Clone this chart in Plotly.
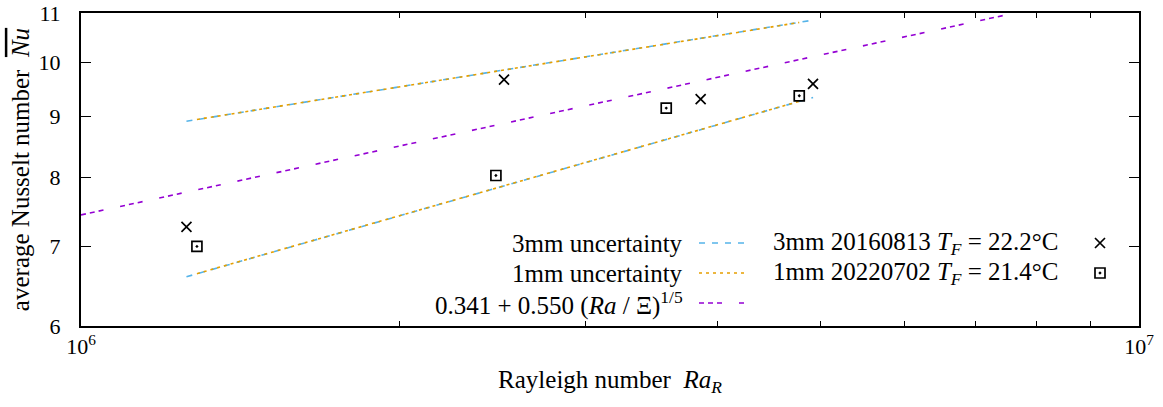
import plotly.graph_objects as go

# ---- data ----
ra_3mm = [1.258e6, 2.511e6, 3.852e6, 4.919e6]
nu_3mm = [7.27, 9.67, 9.31, 9.59]

ra_1mm = [1.287e6, 2.467e6, 3.574e6, 4.774e6]
nu_1mm = [7.00, 8.03, 9.15, 9.37]

unc3_ra = [1.258e6, 4.92e6]
unc3_hi = [8.92, 10.85]
unc3_lo = [6.60, 9.34]

unc1_ra = [1.287e6, 4.774e6]
unc1_hi = [8.95, 10.80]
unc1_lo = [6.64, 9.27]

fit_ra = [1e6, 2e6, 3e6, 4e6, 5e6, 6e6, 7e6, 8e6]
fit_nu = [7.44, 8.50, 9.19, 9.71, 10.14, 10.50, 10.82, 11.10]

x_tickvals = [1e6, 1e7]
x_ticktext = ["10<sup>6</sup>", "10<sup>7</sup>"]
x_minor = [2e6, 3e6, 4e6, 5e6, 6e6, 7e6, 8e6, 9e6]
y_tickvals = [6, 7, 8, 9, 10, 11]
y_ticktext = ["6", "7", "8", "9", "10", "11"]

legend_left = ["3mm uncertainty", "1mm uncertainty",
               "0.341 + 0.550 (<i>Ra</i> / Ξ)<sup>1/5</sup>"]
legend_right = ["3mm 20160813 <i>T</i><sub><i>F</i></sub> = 22.2°C",
                "1mm 20220702 <i>T</i><sub><i>F</i></sub> = 21.4°C"]

# ---- styles ----
CYAN = "#56B4E9"
ORANGE = "#E69F00"
PURPLE = "#9400D3"
FONT = "Liberation Serif"
FS = 25
FS_TICK = 22
DASH_CYAN = "6px,7px"
DASH_ORANGE = "3px,4px"
DASH_PURPLE = "5px,4px,5px,4px,5px,17px"

W, H = 1163, 407
L, R, T, B = 81, 1139, 13, 326   # plot area in page pixels

fig = go.Figure()

for ylist in (unc3_hi, unc3_lo):
    fig.add_trace(go.Scatter(x=unc3_ra, y=ylist, mode="lines",
                             line=dict(color=CYAN, width=1.6, dash=DASH_CYAN),
                             showlegend=False))
for ylist in (unc1_hi, unc1_lo):
    fig.add_trace(go.Scatter(x=unc1_ra, y=ylist, mode="lines",
                             line=dict(color=ORANGE, width=1.6, dash=DASH_ORANGE),
                             showlegend=False))
fig.add_trace(go.Scatter(x=fit_ra, y=fit_nu, mode="lines",
                         line=dict(color=PURPLE, width=1.6, dash=DASH_PURPLE),
                         showlegend=False))
fig.add_trace(go.Scatter(x=ra_3mm, y=nu_3mm, mode="markers",
                         marker=dict(symbol="x-thin", size=10, color="black",
                                     line=dict(color="black", width=1.7)),
                         showlegend=False))
fig.add_trace(go.Scatter(x=ra_1mm, y=nu_1mm, mode="markers",
                         marker=dict(symbol="square-open-dot", size=10, color="black",
                                     line=dict(color="black", width=1.7)),
                         showlegend=False))

# ---- gnuplot-style legend (text right-aligned, sample on the right) ----
def px(x):
    return (x - L) / (R - L)
def py(y):
    return (B - y) / (B - T)

rows = [243, 273, 303]
samples = [(CYAN, DASH_CYAN), (ORANGE, DASH_ORANGE), (PURPLE, DASH_PURPLE)]
for i, txt in enumerate(legend_left):
    fig.add_annotation(x=px(685), y=py(rows[i]), xref="paper", yref="paper",
                       text=txt, showarrow=False, xanchor="right", yanchor="middle",
                       font=dict(family=FONT, size=FS, color="black"))
    fig.add_shape(type="line", xref="paper", yref="paper",
                  x0=px(699), x1=px(748), y0=py(rows[i]), y1=py(rows[i]),
                  line=dict(color=samples[i][0], width=1.6, dash=samples[i][1]))
for i, txt in enumerate(legend_right):
    fig.add_annotation(x=px(1061), y=py(rows[i]), xref="paper", yref="paper",
                       text=txt, showarrow=False, xanchor="right", yanchor="middle",
                       font=dict(family=FONT, size=FS, color="black"))

fig.add_trace(go.Scatter(x=[px(1100)], y=[py(rows[0])], xaxis="x2", yaxis="y2",
                         mode="markers", showlegend=False, hoverinfo="skip",
                         marker=dict(symbol="x-thin", size=10, color="black",
                                     line=dict(color="black", width=1.7))))
fig.add_trace(go.Scatter(x=[px(1100)], y=[py(rows[1])], xaxis="x2", yaxis="y2",
                         mode="markers", showlegend=False, hoverinfo="skip",
                         marker=dict(symbol="square-open-dot", size=10, color="black",
                                     line=dict(color="black", width=1.7))))

axis_common = dict(showline=True, linecolor="black", linewidth=2, mirror="allticks",
                   ticks="inside", tickcolor="black", tickwidth=1,
                   showgrid=False, zeroline=False, automargin=False,
                   ticklabeloverflow="allow",
                   tickfont=dict(family=FONT, size=FS_TICK, color="black"))

fig.update_layout(
    width=W, height=H,
    margin=dict(l=L, r=W - R, t=T, b=H - B),
    plot_bgcolor="white", paper_bgcolor="white",
    showlegend=False,
    xaxis=dict(type="log", range=[6, 7.00001], tickmode="array",
               tickvals=x_tickvals, ticktext=x_ticktext, ticklen=10,
               minor=dict(tickmode="array", tickvals=x_minor, ticks="inside",
                          ticklen=5, tickcolor="black", tickwidth=1, showgrid=False),
               title=dict(text="Rayleigh number\u00a0\u00a0<i>Ra</i><sub><i>R</i></sub>",
                          font=dict(family=FONT, size=FS, color="black"), standoff=12),
               **axis_common),
    yaxis=dict(type="log", range=[0.77815, 1.0413975], tickmode="array",
               tickvals=y_tickvals, ticktext=y_ticktext, ticklen=10,
               ticklabelstandoff=14,
               title=dict(text='average Nusselt number\u00a0\u00a0<span style="text-decoration:overline"><i>Nu</i></span>',
                          font=dict(family=FONT, size=FS, color="black"), standoff=2),
               **axis_common),
    xaxis2=dict(overlaying="x", range=[0, 1], visible=False),
    yaxis2=dict(overlaying="y", range=[0, 1], visible=False),
)

fig.write_html("out.html", config={"displayModeBar": False},
               post_script="document.body.style.margin='0px';")
